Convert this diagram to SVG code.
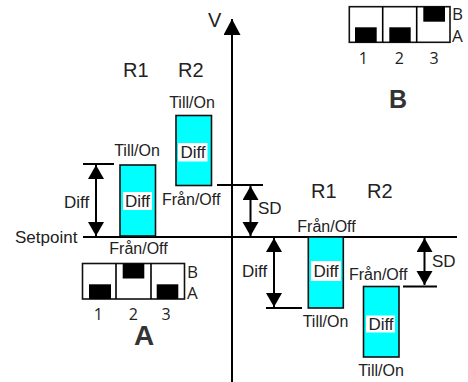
<svg xmlns="http://www.w3.org/2000/svg" width="468" height="382" viewBox="0 0 468 382">
<style>
text{font-family:"Liberation Sans",Arial,sans-serif;fill:#222}
.big{font-size:20px}
.lbl{font-size:16px}
.dl{font-size:17px}
.mid{text-anchor:middle}
.sw{font-family:"Open Sans","DejaVu Sans",sans-serif;fill:#222}
.num{font-size:16px;text-anchor:middle}
.ab{font-size:17px}
.bold{font-weight:bold;fill:#333;text-anchor:middle}
.ln{stroke:#000;stroke-width:2;fill:none}
.ar{stroke:#000;stroke-width:2;fill:none;marker-start:url(#ah);marker-end:url(#ah)}
.box{fill:#00ffff;stroke:#111;stroke-width:1.6}
.wb{fill:#fff}
.sr{fill:#fff;stroke:#111;stroke-width:1.6}
.blk{fill:#000}
</style>
<defs>
<marker id="ah" markerUnits="userSpaceOnUse" markerWidth="15" markerHeight="17" refX="14" refY="8" orient="auto-start-reverse" viewBox="0 0 15 17">
<path d="M0,0 L14,8 L0,16 Z" fill="#000"/>
</marker>
<marker id="axh" markerUnits="userSpaceOnUse" markerWidth="17" markerHeight="18" refX="16" refY="8.5" orient="auto" viewBox="0 0 17 18">
<path d="M0,0 L16,8.5 L0,17 Z" fill="#000"/>
</marker>
</defs>

<g id="connectors">
<line class="ln" x1="232" y1="382" x2="232" y2="19" marker-end="url(#axh)"/>
<line class="ln" x1="83" y1="237" x2="457" y2="237"/>
<line class="ln" x1="83" y1="164" x2="114" y2="164"/>
<line class="ar" x1="96" y1="165" x2="96" y2="236"/>
<line class="ln" x1="217" y1="185" x2="263" y2="185"/>
<line class="ar" x1="250.5" y1="186" x2="250.5" y2="236"/>
<line class="ar" x1="274" y1="238" x2="274" y2="307"/>
<line class="ln" x1="266" y1="308" x2="302" y2="308"/>
<line class="ar" x1="424.5" y1="238" x2="424.5" y2="285"/>
<line class="ln" x1="403" y1="286.5" x2="437" y2="286.5"/>
</g>

<g id="axis-labels">
<text class="big" x="208" y="27">V</text>
<text class="dl" x="15" y="243">Setpoint</text>
<text class="dl" x="64" y="208">Diff</text>
<text class="dl" x="258" y="214">SD</text>
<text class="dl" x="242" y="277">Diff</text>
<text class="dl" x="432" y="267">SD</text>
<text class="big" x="123" y="77">R1</text>
<text class="big" x="178" y="77">R2</text>
<text class="big" x="311" y="198">R1</text>
<text class="big" x="367" y="198">R2</text>
</g>

<g id="heat-r1">
<rect class="box" x="120" y="165" width="35.5" height="71"/>
<rect class="wb" x="123" y="192" width="29" height="18"/>
<text class="dl mid" x="137.5" y="207">Diff</text>
<text class="lbl mid" x="137" y="156">Till/On</text>
<text class="lbl mid" x="138.5" y="253.5">Från/Off</text>
</g>

<g id="heat-r2">
<rect class="box" x="176" y="115.5" width="35.5" height="70"/>
<rect class="wb" x="178" y="143" width="29.5" height="18.5"/>
<text class="dl mid" x="193" y="158">Diff</text>
<text class="lbl mid" x="192" y="108">Till/On</text>
<text class="lbl" x="162" y="205">Från/Off</text>
</g>

<g id="cool-r1">
<rect class="box" x="308.3" y="237" width="35" height="71"/>
<rect class="wb" x="311" y="261" width="30" height="20"/>
<text class="dl mid" x="326" y="277">Diff</text>
<text class="lbl mid" x="326.5" y="232">Från/Off</text>
<text class="lbl mid" x="325.5" y="327">Till/On</text>
</g>

<g id="cool-r2">
<rect class="box" x="363.5" y="286.5" width="35.5" height="70.5"/>
<rect class="wb" x="366" y="315.5" width="29" height="17"/>
<text class="dl mid" x="381" y="330">Diff</text>
<text class="lbl" x="349" y="280">Från/Off</text>
<text class="lbl mid" x="381" y="376">Till/On</text>
</g>

<g id="switch-a">
<rect class="sr" x="82.5" y="263.5" width="102" height="35.5"/>
<line class="ln" x1="116" y1="263.5" x2="116" y2="299" style="stroke-width:1.6"/>
<line class="ln" x1="151" y1="263.5" x2="151" y2="299" style="stroke-width:1.6"/>
<rect class="blk" x="89" y="284.3" width="22" height="14.7"/>
<rect class="blk" x="122.7" y="263.5" width="21.6" height="15"/>
<rect class="blk" x="156.7" y="284.3" width="21.6" height="14.7"/>
<text class="sw ab" x="187" y="278">B</text>
<text class="sw ab" x="187" y="299">A</text>
<text class="sw num" x="98.3" y="320">1</text>
<text class="sw num" x="133.3" y="320">2</text>
<text class="sw num" x="166" y="320">3</text>
<text class="bold" x="144" y="345" style="font-size:28px">A</text>
</g>

<g id="switch-b">
<rect class="sr" x="349.3" y="6.7" width="100.7" height="35.6"/>
<line class="ln" x1="382.7" y1="6.7" x2="382.7" y2="42.3" style="stroke-width:1.6"/>
<line class="ln" x1="416.7" y1="6.7" x2="416.7" y2="42.3" style="stroke-width:1.6"/>
<rect class="blk" x="355" y="27.3" width="21.7" height="15"/>
<rect class="blk" x="389.3" y="27.3" width="21.4" height="15"/>
<rect class="blk" x="423.3" y="6.7" width="21.7" height="15"/>
<text class="sw ab" x="452" y="20">B</text>
<text class="sw ab" x="452" y="42">A</text>
<text class="sw num" x="363.3" y="64">1</text>
<text class="sw num" x="399.3" y="64">2</text>
<text class="sw num" x="434" y="64">3</text>
<text class="bold" x="398" y="108" style="font-size:25px">B</text>
</g>
</svg>
